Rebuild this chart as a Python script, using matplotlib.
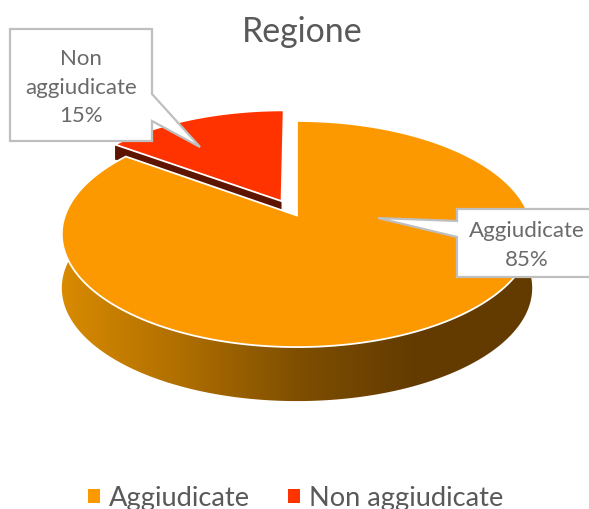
"""
Regione: exploded 3D style pie drawn in pixel space, with callout labels.
"""
import numpy as np
import matplotlib
matplotlib.use("Agg")
import matplotlib.pyplot as plt
from matplotlib.colors import LinearSegmentedColormap
from matplotlib.patches import Patch, Polygon

plt.rcParams["font.family"] = ["Lato", "DejaVu Sans"]

TITLE = "Regione"
labels = ["Aggiudicate", "Non aggiudicate"]
values = [85, 15]
colors = ["#FC9900", "#FF3300"]
wall_red = "#5E1500"
wall_stops = ["#D98B00", "#B06F00", "#7F4F00", "#633B00", "#633B00"]
TEXT = "#595959"
BOX_EDGE = "#BFBFBF"

# projection of the tilted disc
CX, CY = 297, 216.5
SX, SY = 232, 110
PERSP = 0.164
DEPTH = 54
RED_DEPTH = 12
EXPLODE = 0.15


def project(u, v):
    den = 1 + PERSP * v
    return CX + SX * u / den, CY - SY * v / den


def wedge(start, end, explode=0.0):
    """Top face of a slice, angles in degrees, counter-clockwise."""
    mid = np.radians((start + end) / 2)
    du, dv = explode * np.cos(mid), explode * np.sin(mid)
    t = np.radians(np.linspace(start, end, 200))
    u = np.r_[0, np.cos(t)] + du
    v = np.r_[0, np.sin(t)] + dv
    x, y = project(u, v)
    return np.c_[x, y]


def callout(ax, box, base, tip, text):
    x0, y0, x1, y1 = box
    if base[0][0] == x1:
        pts = [(x0, y0), (x1, y0), base[0], tip, base[1], (x1, y1), (x0, y1)]
    else:
        pts = [(x0, y0), (x1, y0), (x1, y1), (x0, y1), base[1], tip, base[0]]
    ax.add_patch(Polygon(pts, closed=True, fc="white", ec=BOX_EDGE, lw=1.6,
                         joinstyle="miter", zorder=6))
    ax.text((x0 + x1) / 2, (y0 + y1) / 2 + 1.5, text, ha="center", va="center",
            color="#6A6A6A", fontsize=16, linespacing=1.55, zorder=7)


fig = plt.figure(figsize=(5.89, 5.10), dpi=100)
ax = fig.add_axes([0, 0, 1, 1])

share_red = 360 * values[1] / sum(values)
red_start, red_end = 90, 90 + share_red

# red slice: side wall first, then top
red_top = wedge(red_start, red_end, EXPLODE)
apex, tip_left = red_top[0], red_top[-1]
wall = np.array([apex, tip_left, tip_left + [0, RED_DEPTH + 3], apex + [0, RED_DEPTH]])
ax.add_patch(Polygon(wall, fc=wall_red, ec="none", zorder=1))
ax.add_patch(Polygon(red_top, fc=colors[1], ec="white", lw=1.3, zorder=2))

# orange wall with left to right shading, clipped to the rim band
t = np.radians(np.linspace(170, 370, 300))
rx, ry = project(np.cos(t), np.sin(t))
band = np.r_[np.c_[rx, ry], np.c_[rx, ry + DEPTH][::-1]]
clip = Polygon(band, transform=ax.transData, fc="none", ec="none")
ax.add_patch(clip)
grad = LinearSegmentedColormap.from_list("wall", wall_stops)
img = ax.imshow(np.linspace(0, 1, 256)[None, :], cmap=grad, aspect="auto",
                extent=(60, 535, 420, 200), zorder=3)
img.set_clip_path(clip)

# orange slice on top
ax.add_patch(Polygon(wedge(red_end, red_start + 360), fc=colors[0], ec="white",
                     lw=1.3, zorder=4))

ax.text(302, 32, TITLE, ha="center", va="center", color=TEXT, fontsize=24.4)

callout(ax, (10, 30, 152, 142), [(152, 95), (152, 122)], (200, 148),
        f"Non\naggiudicate\n{values[1]}%")
# this box runs past the right edge of the picture
callout(ax, (457, 210, 597, 278), [(457, 222), (457, 238)], (378, 219),
        f"Aggiudicate\n{values[0]}%")

handles = [Patch(fc=c, ec="none") for c in colors]
ax.legend(handles, labels, ncol=2, loc="center", bbox_to_anchor=(296, 499),
          bbox_transform=ax.transData, frameon=False, fontsize=19.6,
          labelcolor=TEXT, handlelength=0.44, handleheight=0.44,
          handletextpad=0.33, columnspacing=1.4, borderpad=0)

ax.set_xlim(0, 589)
ax.set_ylim(510, 0)
ax.axis("off")
fig.savefig("out.png", dpi=100, facecolor="white")
